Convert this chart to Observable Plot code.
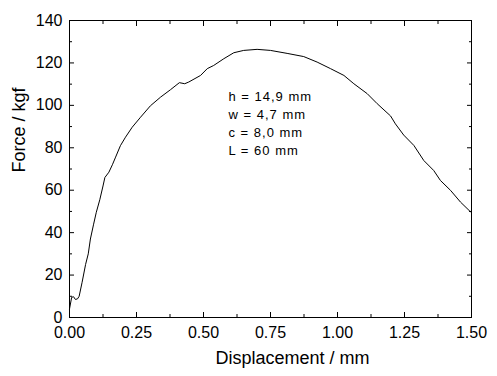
<!DOCTYPE html>
<html>
<head>
<meta charset="utf-8">
<script src="https://cdn.jsdelivr.net/npm/d3@7"></script>
<script src="https://cdn.jsdelivr.net/npm/@observablehq/plot@0.6"></script>
<style>
  body { margin: 0; background: #fff; }
  #chart { width: 497px; height: 376px; }
</style>
</head>
<body>
<div id="chart"></div>
<script>
const displacement = [0, 0.008, 0.015, 0.022, 0.03, 0.036, 0.047, 0.06, 0.07, 0.078, 0.09, 0.1, 0.113, 0.125, 0.132, 0.147, 0.16, 0.172, 0.19, 0.209, 0.234, 0.265, 0.302, 0.34, 0.377, 0.41, 0.43, 0.445, 0.489, 0.514, 0.538, 0.576, 0.613, 0.65, 0.7, 0.75, 0.812, 0.874, 0.924, 0.974, 1.024, 1.061, 1.111, 1.148, 1.198, 1.216, 1.247, 1.285, 1.322, 1.359, 1.384, 1.422, 1.459, 1.494, 1.5];
const force = [4, 9.5, 9.8, 8.5, 8.8, 10, 16.6, 25, 30, 37, 44, 49.6, 55.5, 62, 66, 68.5, 72, 75.6, 81, 85, 89.7, 94.4, 99.8, 103.9, 107.4, 110.7, 110.2, 111, 114.1, 117.3, 118.8, 122, 124.8, 125.9, 126.4, 125.9, 124.5, 123, 120.4, 117.3, 114.1, 110.2, 105.5, 100.8, 95, 91.3, 86, 81.1, 74, 69.3, 64.6, 59.9, 54.4, 50.1, 49.5];
const xMajorTicks = [0, 0.25, 0.5, 0.75, 1.0, 1.25, 1.5];
const xMinorTicks = [0.125, 0.375, 0.625, 0.875, 1.125, 1.375];
const yMajorTicks = [0, 20, 40, 60, 80, 100, 120, 140];
const yMinorTicks = [10, 30, 50, 70, 90, 110, 130];
const xLabel = "Displacement / mm";
const yLabel = "Force / kgf";
const noteLines = ["h = 14,9 mm", "w = 4,7 mm", "c = 8,0 mm", "L = 60 mm"];

const data = displacement.map((d, i) => ({d, f: force[i]}));
const blank = () => "";

const chart = Plot.plot({
  width: 497,
  height: 376,
  marginLeft: 69,
  marginRight: 26,
  marginTop: 20,
  marginBottom: 59,
  style: {fontFamily: "Arial, 'Liberation Sans', sans-serif", fontSize: "16px", color: "black", background: "white"},
  x: {domain: [0, 1.5]},
  y: {domain: [0, 140]},
  marks: [
    Plot.frame({stroke: "black", strokeWidth: 1}),
    Plot.axisX({anchor: "bottom", ticks: xMajorTicks, tickSize: -5, tickPadding: 14, tickFormat: d3.format(".2f"), label: null, fontSize: 16}),
    Plot.axisX({anchor: "bottom", ticks: xMinorTicks, tickSize: -3, tickFormat: blank, label: null}),
    Plot.axisX({anchor: "top", ticks: xMajorTicks, tickSize: -5, tickFormat: blank, label: null}),
    Plot.axisX({anchor: "top", ticks: xMinorTicks, tickSize: -3, tickFormat: blank, label: null}),
    Plot.axisY({anchor: "left", ticks: yMajorTicks, tickSize: -5, tickPadding: 12, tickFormat: d3.format("d"), label: null, fontSize: 16}),
    Plot.axisY({anchor: "left", ticks: yMinorTicks, tickSize: -3, tickFormat: blank, label: null}),
    Plot.axisY({anchor: "right", ticks: yMajorTicks, tickSize: -5, tickFormat: blank, label: null}),
    Plot.axisY({anchor: "right", ticks: yMinorTicks, tickSize: -3, tickFormat: blank, label: null}),
    Plot.line(data, {x: "d", y: "f", stroke: "black", strokeWidth: 1}),
    Plot.text([noteLines.join("\n")], {frameAnchor: "top-left", dx: 159, dy: 68, textAnchor: "start", lineAnchor: "top", lineHeight: 18 / 13, fontSize: 13, fill: "black"}),
    Plot.text([xLabel], {frameAnchor: "bottom", dx: 22, dy: 41, textAnchor: "middle", lineAnchor: "middle", fontSize: 18, fill: "black"}),
    Plot.text([yLabel], {frameAnchor: "left", dx: -50, dy: -39, rotate: -90, textAnchor: "middle", lineAnchor: "middle", fontSize: 18, fill: "black"})
  ]
});
chart.querySelectorAll("text").forEach(t => {
  if (t.textContent.startsWith(noteLines[0])) t.style.letterSpacing = "1px";
});
document.getElementById("chart").appendChild(chart);
</script>
</body>
</html>
